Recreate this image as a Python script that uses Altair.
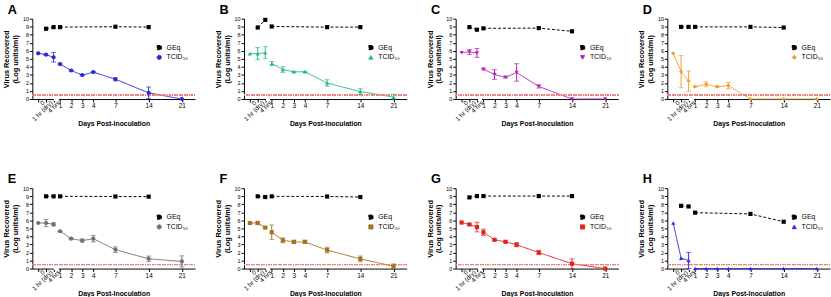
import altair as alt
import pandas as pd

# ---------------- data ----------------
X_LABELS = ["0", "1 hr (dry)", "4 hrs", "1", "2", "3", "4", "7", "14", "21"]
DAYS = [0, 1 / 24, 4 / 24, 1, 2, 3, 4, 7, 14, 21]
SEGMENT = ["pre", "pre", "pre", "post", "post", "post", "post", "post", "post", "post"]
Y_TICKS = [0, 1, 2, 3, 4, 5, 6, 7, 8, 9, 10]

PANELS = ["A", "B", "C", "D", "E", "F", "G", "H"]

GEQ = {
    "A": [None, 8.75, 8.95, 8.95, None, None, None, 9.0, 8.95, None],
    "B": [None, 8.9, 9.85, 9.03, None, None, None, 8.95, 8.95, None],
    "C": [None, 8.95, 8.63, 8.8, None, None, None, 8.83, 8.43, None],
    "D": [None, 8.98, 8.98, 8.98, None, None, None, 8.98, 8.9, None],
    "E": [None, 8.99, 8.99, 8.99, None, None, None, 8.97, 8.95, None],
    "F": [None, 8.99, 8.9, 8.99, None, None, None, 8.97, 8.9, None],
    "G": [None, 8.86, 9.02, 9.02, None, None, None, 9.02, 9.02, None],
    "H": [None, 7.81, 7.73, 6.96, None, None, None, 6.8, 5.83, None],
}
TCID = {
    "A": [5.69, 5.52, 5.2, 4.35, 3.55, 2.98, 3.35, 2.46, 0.77, 0.0],
    "B": [5.65, 5.65, 5.77, 4.43, 3.67, 3.39, 3.39, 2.0, 0.93, 0.24],
    "C": [5.77, 5.85, 5.73, 3.71, 3.06, 2.7, 3.3, 1.57, 0.0, 0.0],
    "D": [5.69, 3.41, 2.24, 1.54, 1.83, 1.54, 1.67, 0.0, 0.0, 0.0],
    "E": [5.67, 5.67, 5.5, 4.65, 3.72, 3.48, 3.72, 2.35, 1.21, 0.89],
    "F": [5.67, 5.67, 5.1, 4.53, 3.52, 3.32, 3.32, 2.3, 1.21, 0.28],
    "G": [5.73, 5.49, 5.16, 4.51, 3.58, 3.33, 2.97, 1.99, 0.61, 0.0],
    "H": [5.67, 1.3, 1.01, 0.0, 0.0, 0.0, 0.0, 0.0, 0.0, 0.0],
}
TCID_ERR = {
    "A": [0, 0.08, 0.6, 0.1, 0.08, 0.08, 0.08, 0.2, 0.73, 0],
    "B": [0, 0.75, 0.75, 0.25, 0.35, 0.08, 0.08, 0.4, 0.35, 0.35],
    "C": [0, 0.3, 0.55, 0.1, 0.6, 0.08, 1.1, 0.2, 0, 0],
    "D": [0, 2.0, 1.27, 0.05, 0.3, 0.05, 0.4, 0, 0, 0],
    "E": [0, 0.45, 0.2, 0.05, 0.08, 0.2, 0.4, 0.35, 0.35, 0.7],
    "F": [0, 0.2, 0.08, 0.9, 0.3, 0.2, 0.2, 0.35, 0.35, 0.3],
    "G": [0, 0.08, 0.6, 0.4, 0.08, 0.08, 0.25, 0.25, 0.6, 0],
    "H": [0, 0, 1.0, 0, 0, 0, 0, 0, 0, 0],
}
COLORS = {
    "A": "#2a2ad8", "B": "#25b98a", "C": "#b81fb8", "D": "#f59b2e",
    "E": "#707070", "F": "#a5731f", "G": "#e32222", "H": "#2a2ae4",
}
SHAPES = {
    "A": "circle", "B": "triangle-up", "C": "triangle-down", "D": "diamond",
    "E": "circle", "F": "square", "G": "square", "H": "triangle-up",
}
SERIES = ["GEq", "TCID\u2085\u2080"]
LOD = 0.5

# broken x axis: piecewise linear scale
X_DOMAIN = [-0.02, 0, 1 / 24, 4 / 24, 1, 4, 7, 14, 21, 24.1]
W, H = 166, 82
X_RANGE = [0, 6, 14, 21.7, 28.3, 62.2, 84.8, 118.7, 152.6, W]

FONT = "Liberation Sans"


def panel_df(key):
    rows = []
    for i, lab in enumerate(X_LABELS):
        if GEQ[key][i] is not None:
            rows.append(dict(series=SERIES[0], label=lab, day=DAYS[i], seg=SEGMENT[i],
                             value=GEQ[key][i], err=0.0))
        rows.append(dict(series=SERIES[1], label=lab, day=DAYS[i], seg=SEGMENT[i],
                         value=TCID[key][i], err=TCID_ERR[key][i]))
    df = pd.DataFrame(rows)
    df["lo"] = (df["value"] - df["err"]).clip(lower=0)
    df["hi"] = df["value"] + df["err"]
    return df


def make_panel(key):
    df = panel_df(key)
    color = COLORS[key]
    xscale = alt.Scale(domain=X_DOMAIN, range=X_RANGE, nice=False, zero=False)
    yscale = alt.Scale(domain=[0, 10], nice=False, zero=False)
    xaxis = alt.Axis(
        values=DAYS, tickCount=30, labelExpr="datum.value >= 1 ? datum.label : ''",
        title="Days Post-Inoculation", titleFontSize=7, titleFontWeight="bold",
        titlePadding=11, labelFontSize=6.5, labelPadding=1, tickSize=3,
        labelOverlap=False,
    )
    yaxis = alt.Axis(
        values=Y_TICKS, tickCount=30, format="d", title=["Virus Recovered", "(Log units/ml)"],
        titleFontSize=7.5, titleFontWeight="bold", titlePadding=3, titleLineHeight=9,
        labelFontSize=5.5, labelPadding=1, tickSize=3, labelOverlap=False,
    )
    x = alt.X("day:Q", scale=xscale, axis=xaxis)
    y = alt.Y("value:Q", scale=yscale, axis=yaxis)
    cscale = alt.Scale(domain=SERIES, range=["black", color])
    leg = alt.Legend(title=None, orient="none", legendX=126, legendY=26,
                     labelFontSize=7, labelFont=FONT, labelColor="black",
                     symbolSize=18, rowPadding=1, symbolStrokeWidth=1)
    col = alt.Color("series:N", scale=cscale, legend=leg)
    col_nl = alt.Color("series:N", scale=cscale, legend=None)

    base = alt.Chart(df)
    lines = base.mark_line(strokeWidth=1).encode(
        x=x, y=y, color=col,
        strokeDash=alt.StrokeDash("series:N", scale=alt.Scale(domain=SERIES, range=[[3, 2], [1, 0]]), legend=None),
        detail="seg:N",
    )
    lod = base.mark_rule(color="#ee7f80", strokeDash=[1, 1.5], strokeWidth=1).encode(
        y=alt.YDatum(LOD, scale=yscale, axis=yaxis))
    gap = base.mark_rule(color="white", strokeWidth=3).encode(
        x=alt.XDatum(0.3, scale=xscale, axis=xaxis), x2=alt.X2Datum(0.75),
        y=alt.YDatum(0, scale=yscale, axis=yaxis))
    err_df = base.transform_filter("datum.err > 0")
    ebar = err_df.mark_rule(strokeWidth=1).encode(
        x=x, y=alt.Y("lo:Q", scale=yscale, axis=yaxis), y2="hi:Q", color=col_nl)
    cap_lo = err_df.mark_tick(orient="horizontal", size=5, thickness=1).encode(
        x=x, y=alt.Y("lo:Q", scale=yscale, axis=yaxis), color=col_nl)
    cap_hi = err_df.mark_tick(orient="horizontal", size=5, thickness=1).encode(
        x=x, y=alt.Y("hi:Q", scale=yscale, axis=yaxis), color=col_nl)
    pts = base.mark_point(filled=True, size=18, opacity=1).encode(
        x=x, y=y, color=col,
        shape=alt.Shape("series:N", scale=alt.Scale(domain=SERIES, range=["square", SHAPES[key]]), legend=leg),
    )
    rot = alt.Chart(pd.DataFrame({"day": DAYS[:3], "label": X_LABELS[:3]})).mark_text(
        angle=315, align="right", baseline="middle", fontSize=6.5, font=FONT,
        color="black", dy=6, dx=2,
    ).encode(x=x, y=alt.YDatum(0, scale=yscale, axis=yaxis), text="label:N")

    return alt.layer(lines, lod, gap, ebar, cap_lo, cap_hi, pts, rot).properties(
        width=W, height=H,
        title=alt.TitleParams(key, anchor="start", fontSize=13, fontWeight="bold",
                              font=FONT, color="black", offset=0, dx=5),
    )


def row(keys):
    return alt.hconcat(*[make_panel(k) for k in keys], spacing=18).resolve_scale(
        x="independent", y="independent", color="independent",
        shape="independent", strokeDash="independent")


chart = alt.vconcat(row(PANELS[:4]), row(PANELS[4:]), spacing=47).resolve_scale(
    x="independent", y="independent", color="independent",
    shape="independent", strokeDash="independent",
).properties(
    padding={"left": 2, "top": 1, "right": 0, "bottom": 0},
    background="white",
).configure_view(stroke=None).configure_axis(
    labelOverlap=False, grid=False, labelFlush=False,
    domainColor="black", tickColor="black", labelColor="black", titleColor="black",
    labelFont=FONT, titleFont=FONT,
)

chart.save("out.html", embed_options={"renderer": "svg", "actions": False})
